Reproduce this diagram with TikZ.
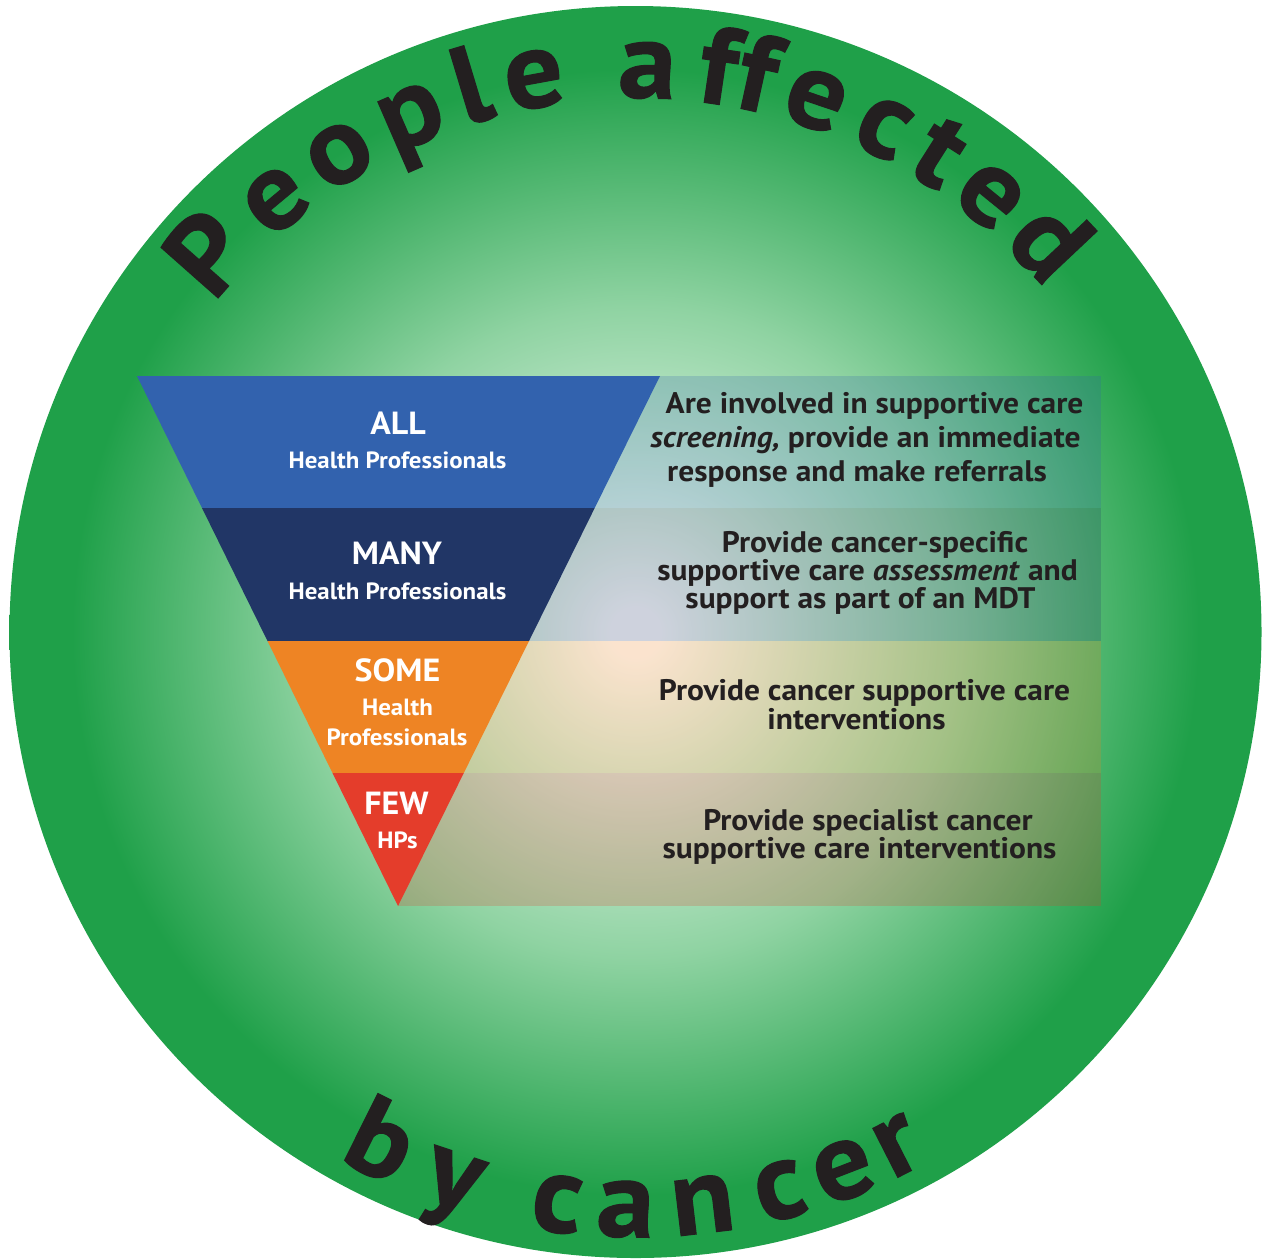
\documentclass[tikz,border=0pt]{standalone}
\usepackage{fontspec}
\setmainfont{PT Sans}[FakeStretch=1.06]
\definecolor{ringgreen}{HTML}{1FA049}
\definecolor{glowmid}{HTML}{8FD3A2}
\definecolor{allblue}{HTML}{3262AE}
\definecolor{manynavy}{HTML}{213666}
\definecolor{someorange}{HTML}{EE8424}
\definecolor{fewred}{HTML}{E43D2B}
\definecolor{inkdark}{HTML}{231F20}
% white core fading to the green rim; the inner 25bp radius spans the disc
\pgfdeclareradialshading{bgglow}{\pgfpointorigin}{color(0bp)=(white); color(1bp)=(white); color(13bp)=(glowmid); color(22.5bp)=(ringgreen); color(25bp)=(ringgreen); color(50bp)=(ringgreen)}
\begin{document}
\begin{tikzpicture}[x=1pt,y=-1pt,
  arcletter/.style={font=\fontsize{110}{110}\selectfont\bfseries\addfontfeature{FakeBold=1}, text=inkdark, inner sep=0pt, anchor=base},
  tierbig/.style={text=white, font=\fontsize{32}{32}\selectfont\bfseries, inner sep=0pt, anchor=base},
  tiersmall/.style={text=white, font=\fontsize{23.5}{23.5}\selectfont\bfseries, inner sep=0pt, anchor=base},
  rowtext/.style={text=inkdark, font=\fontsize{29.7}{29.7}\selectfont\bfseries, inner sep=0pt, anchor=base},
  rowband/.style={fill opacity=0.22}
]
\useasboundingbox (0,0) rectangle (1265,1259);
\fill[white] (0,0) rectangle (1265,1259);
\coordinate (C) at (635.5,632);

% green disc with its glowing centre
\shade[shading=bgglow] (C) circle[radius=626pt];

% tinted bands behind the descriptions
\fill[allblue, rowband] (398,376) rectangle (1101,508);
\fill[manynavy, rowband] (398,508) rectangle (1101,641);
\fill[someorange, rowband] (398,641) rectangle (1101,773);
\fill[fewred, rowband] (398,773) rectangle (1101,906);

% inverted pyramid
\fill[allblue] (137,376) -- (660,376) -- (594.7,508) -- (202,508) -- cycle;
\fill[manynavy] (202,508) -- (594.7,508) -- (529,641) -- (267.5,641) -- cycle;
\fill[someorange] (267.5,641) -- (529,641) -- (463.8,773) -- (332.5,773) -- cycle;
\fill[fewred] (332.5,773) -- (463.8,773) -- (398,906) -- cycle;

% tier labels
\node[tierbig] (all) at (398,434) {ALL};
\node[tiersmall] (allhp) at (397.5,468) {Health Professionals};
\node[tierbig] (many) at (397,564) {MANY};
\node[tiersmall] (manyhp) at (397.5,599) {Health Professionals};
\node[tierbig] (some) at (397.5,681) {SOME};
\node[tiersmall] (somehp1) at (397.5,715) {Health};
\node[tiersmall] (somehp2) at (397,745) {Professionals};
\node[tierbig] (few) at (396.5,814) {FEW};
\node[tiersmall] (fewhp) at (397.5,848) {HPs};

% descriptions
\node[rowtext] (d1a) at (874.5,413) {Are involved in supportive care};
\node[rowtext] (d1b) at (865.5,447) {\textit{screening,} provide an immediate};
\node[rowtext] (d1c) at (857,481) {response and make referrals};
\node[rowtext] (d2a) at (875,552) {Provide cancer-specific};
\node[rowtext] (d2b) at (867.5,580) {supportive care \textit{assessment} and};
\node[rowtext] (d2c) at (860.5,608) {support as part of an MDT};
\node[rowtext] (d3a) at (864.5,700) {Provide cancer supportive care};
\node[rowtext] (d3b) at (856.5,729) {interventions};
\node[rowtext] (d4a) at (868,830) {Provide specialist cancer};
\node[rowtext] (d4b) at (859.5,858) {supportive care interventions};

% lettering around the rim
\foreach \ch/\ang [count=\i] in {P/138.5,e/129.8,o/121.8,p/113.5,l/106.8,e/100.4,a/88.8,f/81.6,f/77.6,e/71.3,c/63.8,t/57.6,e/50.9,d/43.3}
  \node[arcletter, rotate=\ang-90] (top\i) at ({635.5+534*cos(\ang)},{632-534*sin(\ang)}) {\ch};
\foreach \ch/\ang [count=\i] in {b/-116.5,y/-108.4,c/-97.8,a/-91.0,n/-83.3,c/-75.5,e/-68.9,r/-63.0}
  \node[arcletter, rotate=\ang+90] (bot\i) at ({635.5+605*cos(\ang)},{632-605*sin(\ang)}) {\ch};
\end{tikzpicture}
\end{document}
